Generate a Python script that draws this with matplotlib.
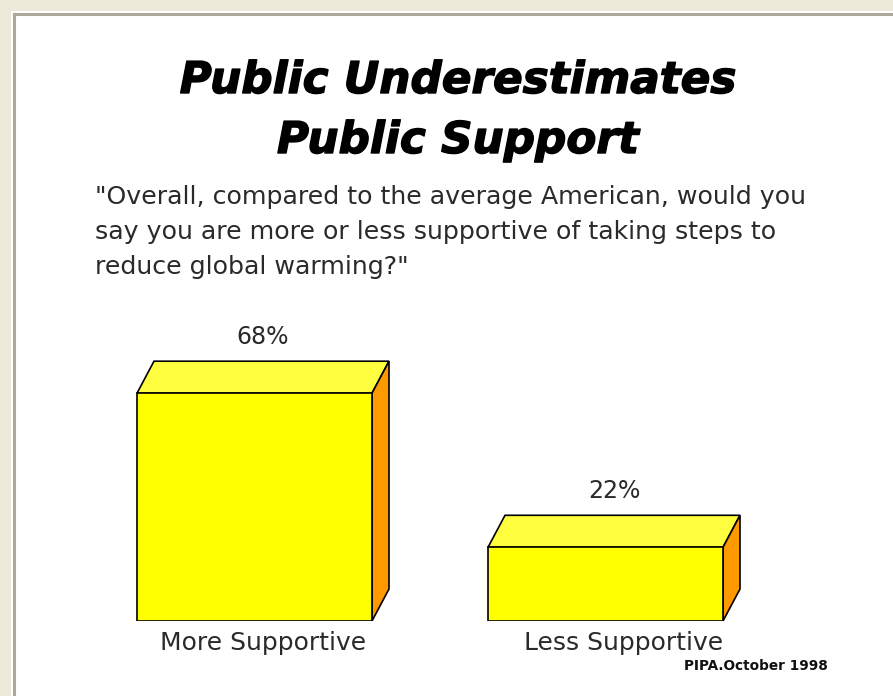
import matplotlib
matplotlib.use("Agg")
import matplotlib.pyplot as plt
import matplotlib.patheffects as pe
from matplotlib.patches import Polygon, Rectangle

categories = ["More Supportive", "Less Supportive"]
values = [68, 22]
value_labels = ["68%", "22%"]
title_lines = ["Public Underestimates", "Public Support"]
subtitle_lines = ['"Overall, compared to the average American, would you',
                  'say you are more or less supportive of taking steps to',
                  'reduce global warming?"']
source = "PIPA.October 1998"

W, H = 893, 696
fig = plt.figure(figsize=(W / 100, H / 100), dpi=100)
fig.patch.set_facecolor("white")

def fy(px):
    return 1 - px / H

# window-like frame
beige = "#ECE9D8"
fig.add_artist(Rectangle((0, fy(11)), 1, 11 / H, transform=fig.transFigure,
                         facecolor=beige, edgecolor="none", zorder=0))
fig.add_artist(Rectangle((0, 0), 11 / W, 1, transform=fig.transFigure,
                         facecolor=beige, edgecolor="none", zorder=0))
fig.add_artist(plt.Line2D([13.5 / W, 1], [fy(13.5), fy(13.5)], transform=fig.transFigure,
                          color="#ACA899", lw=2.2, zorder=1))
fig.add_artist(plt.Line2D([13.5 / W, 13.5 / W], [0, fy(13.5)], transform=fig.transFigure,
                          color="#ACA899", lw=2.2, zorder=1))

# bar axes: y=0 at pixel 621 from top, 3.35 px per unit
ax = fig.add_axes([0, (H - 621) / H, 1, 335 / H])
spacing = 351.0
x0 = -254.5 / spacing
ax.set_xlim(x0, x0 + W / spacing)
ax.set_ylim(0, 100)
ax.axis("off")

width = 235 / spacing
dx = 17 / spacing
dy = 32 / 3.35
front_c = "#FFFF00"
top_c = "#FFFF40"
side_c = "#FF9900"
lw = 1.2
label_shift = [0, 10 / spacing]

for i, (v, lab, cat) in enumerate(zip(values, value_labels, categories)):
    xl = i - width / 2
    xr = i + width / 2
    ax.add_patch(Rectangle((xl, 0), width, v, facecolor=front_c, edgecolor="black",
                           lw=lw, zorder=3))
    ax.add_patch(Polygon([(xl, v), (xr, v), (xr + dx, v + dy), (xl + dx, v + dy)],
                         closed=True, facecolor=top_c, edgecolor="black", lw=lw, zorder=2))
    ax.add_patch(Polygon([(xr, 0), (xr + dx, dy), (xr + dx, v + dy), (xr, v)],
                         closed=True, facecolor=side_c, edgecolor="black", lw=lw, zorder=2))
    ax.text(i + dx / 2, v + dy + 5.1, lab, ha="center", va="baseline",
            fontsize=17, family="DejaVu Sans", color="#2a2a2a")
    ax.text(i + dx / 2 + label_shift[i], -8.8, cat, ha="center", va="baseline",
            fontsize=18, family="DejaVu Sans", color="#2a2a2a", clip_on=False)

for line, base in zip(title_lines, [93, 153]):
    fig.text(458 / W, fy(base), line, ha="center", va="baseline", fontsize=31.5,
             family="DejaVu Sans", weight="bold", style="italic",
             path_effects=[pe.withStroke(linewidth=1.0, foreground="black")])

for line, base in zip(subtitle_lines, [204, 239, 274]):
    fig.text(95 / W, fy(base), line, ha="left", va="baseline", fontsize=18.2,
             family="DejaVu Sans", color="#2a2a2a")

fig.text(828 / W, fy(670), source, ha="right", va="baseline", fontsize=9.8,
         family="DejaVu Sans", weight="bold", color="#111111")

fig.savefig("out.png", dpi=100, facecolor=fig.get_facecolor())
